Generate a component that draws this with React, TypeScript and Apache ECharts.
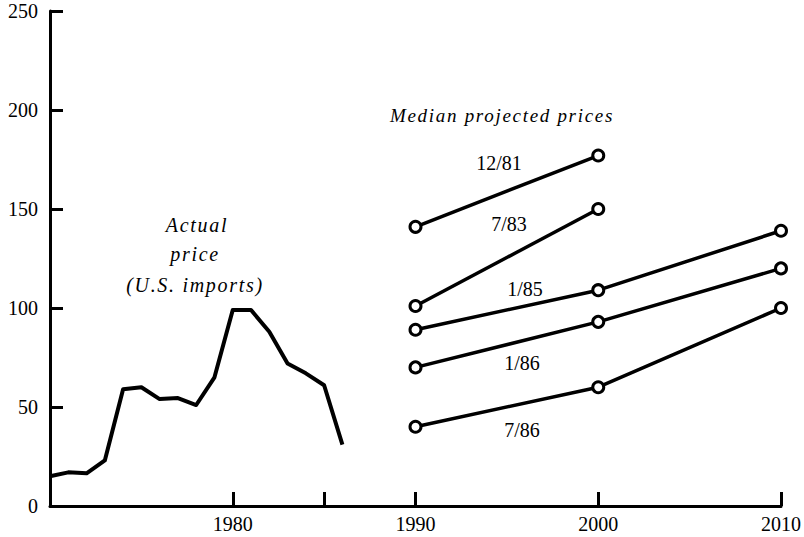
import React, { useEffect, useRef } from "react";
import * as echarts from "echarts";

const actualYears = [1970, 1971, 1972, 1973, 1974, 1975, 1976, 1977, 1978, 1979, 1980, 1981, 1982, 1983, 1984, 1985, 1986];
const actualPrice = [15, 17, 16.5, 23, 59, 60, 54, 54.5, 51, 65, 99, 99, 88, 72, 67, 61, 31];

const projYears = [1990, 2000, 2010];
const proj1281 = [141, 177];
const proj783 = [101, 150];
const proj185 = [89, 109, 139];
const proj186 = [70, 93, 120];
const proj786 = [40, 60, 100];

const projNames = ["12/81", "7/83", "1/85", "1/86", "7/86"];
const projValues = [proj1281, proj783, proj185, proj186, proj786];

const xTickValues = [1980, 1985, 1990, 2000, 2010];
const xLabelValues = [1980, 1990, 2000, 2010];

const SERIF = "'Liberation Serif', 'Times New Roman', serif";

export default function App() {
  const ref = useRef<HTMLDivElement>(null);
  useEffect(() => {
    const styleEl = document.createElement("style");
    styleEl.textContent = `body{margin:0} #chart text[style*="italic"]{letter-spacing:1.7px}`;
    document.head.appendChild(styleEl);
    const chart = echarts.init(ref.current!, null, { renderer: "svg" });
    const projSeries = projValues.map((vals, i) => ({
      type: "line",
      name: projNames[i],
      data: vals.map((v, j) => [projYears[j], v]),
      symbol: "circle",
      symbolSize: 11,
      showAllSymbol: true,
      lineStyle: { color: "#000", width: 3.5 },
      itemStyle: { color: "#fff", borderColor: "#000", borderWidth: 3 },
      z: 3,
    }));
    const labelPos: [number, number][] = [
      [499, 163],
      [509, 224],
      [525, 289],
      [522, 363],
      [522, 430],
    ];
    chart.setOption({
      animation: false,
      grid: { left: 50, right: 22, top: 11, bottom: 31, containLabel: false },
      xAxis: {
        type: "value",
        min: 1970,
        max: 2010,
        interval: 5,
        axisLine: { show: true, lineStyle: { color: "#000", width: 3 } },
        axisTick: {
          show: true,
          inside: true,
          length: 14,
          customValues: xTickValues,
          lineStyle: { color: "#000", width: 3 },
        },
        axisLabel: {
          customValues: xLabelValues,
          formatter: (v: number) => String(v),
          color: "#000",
          fontFamily: SERIF,
          fontSize: 20,
          margin: 8,
        },
        splitLine: { show: false },
      },
      yAxis: {
        type: "value",
        min: 0,
        max: 250,
        interval: 50,
        axisLine: { show: true, lineStyle: { color: "#000", width: 3 } },
        axisTick: {
          show: true,
          inside: true,
          length: 13,
          lineStyle: { color: "#000", width: 3 },
        },
        axisLabel: {
          color: "#000",
          fontFamily: SERIF,
          fontSize: 20,
          margin: 12,
        },
        splitLine: { show: false },
      },
      series: [
        {
          type: "line",
          name: "Actual price",
          data: actualYears.map((y, i) => [y, actualPrice[i]]),
          symbol: "none",
          lineStyle: { color: "#000", width: 4, join: "round" },
          z: 2,
        },
        ...projSeries,
      ],
      graphic: [
        {
          type: "text",
          x: 502,
          y: 115,
          style: {
            text: "Median projected prices",
            fontFamily: SERIF,
            fontStyle: "italic",
            fontSize: 19,
            fill: "#000",
            textAlign: "center",
            textVerticalAlign: "middle",
          },
        },
        {
          type: "text",
          x: 197,
          y: 225,
          style: {
            text: "Actual",
            fontFamily: SERIF,
            fontStyle: "italic",
            fontSize: 20,
            fill: "#000",
            textAlign: "center",
            textVerticalAlign: "middle",
          },
        },
        {
          type: "text",
          x: 195,
          y: 254,
          style: {
            text: "price",
            fontFamily: SERIF,
            fontStyle: "italic",
            fontSize: 20,
            fill: "#000",
            textAlign: "center",
            textVerticalAlign: "middle",
          },
        },
        {
          type: "text",
          x: 195,
          y: 285,
          style: {
            text: "(U.S. imports)",
            fontFamily: SERIF,
            fontStyle: "italic",
            fontSize: 20,
            fill: "#000",
            textAlign: "center",
            textVerticalAlign: "middle",
          },
        },
        ...projNames.map((n, i) => ({
          type: "text",
          x: labelPos[i][0],
          y: labelPos[i][1],
          style: {
            text: n,
            fontFamily: SERIF,
            fontSize: 20,
            fill: "#000",
            textAlign: "center",
            textVerticalAlign: "middle",
          },
        })),
      ],
    });
    return () => {
      chart.dispose();
      styleEl.remove();
    };
  }, []);
  return (
    <div
      id="chart"
      ref={ref}
      style={{ position: "fixed", left: 0, top: 0, width: 804, height: 537, background: "#fff" }}
    />
  );
}
